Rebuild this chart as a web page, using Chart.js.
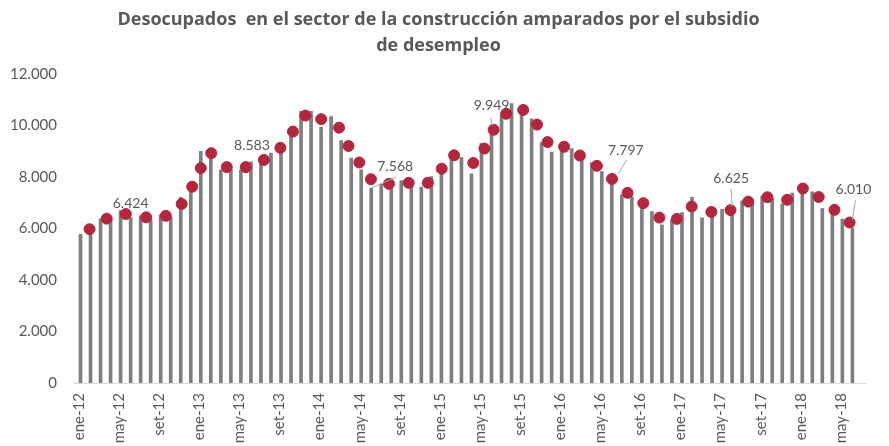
<!DOCTYPE html>
<html>
<head>
<meta charset="utf-8">
<script src="https://cdn.jsdelivr.net/npm/chart.js@4.4.1/dist/chart.umd.min.js"></script>
<style>
  html, body { margin: 0; padding: 0; background: #fff; }
  #wrap { width: 889px; height: 446px; }
</style>
</head>
<body>
<div id="wrap"><canvas id="chart" width="889" height="446"></canvas></div>
<script>
// Desocupados de la construcción con subsidio de desempleo — monthly bars + red markers

const MONTHS = ['ene', 'feb', 'mar', 'abr', 'may', 'jun', 'jul', 'ago', 'set', 'oct', 'nov', 'dic'];
const YEARS  = ['12', '13', '14', '15', '16', '17', '18'];
const MONTHS_IN_LAST_YEAR = 7; // axis runs to jul-18 (last slot empty)

// monthly values ene-12 .. jun-18, then the empty jul-18 slot
const VALUES = [
  5770, 5920, 6370, 6340, 6690, 6424, 6490, 6330, 6530, 6440, 7210, 7450,
  8990, 8740, 8270, 8280, 8270, 8583, 8540, 8920, 9080, 9590, 10540, 10540,
  9930, 10340, 9410, 8730, 8270, 7568, 7720, 7640, 7860, 7690, 7600, 8010,
  8420, 8890, 8760, 8120, 9300, 9949, 10390, 10850, 10650, 10250, 9330, 8960,
  9310, 9100, 8790, 8560, 8210, 7797, 7300, 7230, 6910, 6650, 6140, 6330,
  6610, 7210, 6410, 6650, 6740, 6625, 7070, 7030, 7260, 7170, 6950, 7370,
  7500, 7420, 6770, 6720, 6360, 6010, null
];

// red markers: position along the month axis (0 = ene-12) and value
const DOT_POS = [
  1.05, 2.76, 4.67, 6.70, 8.66, 10.24, 11.29, 12.15, 13.19, 14.74,
  16.64, 18.45, 20.09, 21.34, 22.59, 24.16, 25.94, 26.88, 27.96, 29.12,
  30.92, 32.89, 34.80, 36.18, 37.42, 39.33, 40.44, 41.36, 42.61, 44.31,
  45.69, 46.74, 48.39, 49.96, 51.66, 53.17, 54.72, 56.29, 57.90, 59.64,
  61.12, 63.08, 64.99, 66.76, 68.67, 70.64, 72.21, 73.79, 75.36, 76.87
];
const DOT_VALUES = [
  5970, 6380, 6560, 6430, 6490, 6950, 7620, 8340, 8920, 8380,
  8380, 8660, 9130, 9760, 10380, 10240, 9910, 9200, 8560, 7910,
  7730, 7770, 7770, 8320, 8840, 8540, 9100, 9830, 10450, 10600,
  10030, 9350, 9170, 8830, 8430, 7920, 7380, 6980, 6420, 6370,
  6850, 6640, 6710, 7040, 7210, 7110, 7550, 7220, 6720, 6230
];

// June of each year carries a value label
const LABELLED = [5, 17, 29, 41, 53, 65, 77];

const Y_MIN = 0, Y_MAX = 12000, Y_STEP = 2000;

// ── styles ──────────────────────────────────────────────────────────────
const GRAY = '#7f7f7f';
const RED = '#b3263d';
const TEXT = '#595959';
const FONT = 'Lato, "Open Sans", sans-serif';

// label placement relative to the bar top: text centre offset and leader line
const LABEL_STYLE = [
  { dx: 0,  dy: -14, line: null },
  { dx: 1,  dy: -16, line: null },
  { dx: 24, dy: -22, line: [0, 0, 25, -11] },
  { dx: 0,  dy: -21, line: [-1, -9, 1, -1] },
  { dx: 14, dy: -32, line: [6, -8, 15, -22] },
  { dx: -1, dy: -34, line: [0, -6, -1, -23] },
  { dx: 1,  dy: -39, line: [0, -8, 3, -28] },
];

function fmt(v) {
  return String(v).replace(/\B(?=(\d{3})+(?!\d))/g, '.');
}

const labels = [];
YEARS.forEach((y, yi) => {
  const n = yi === YEARS.length - 1 ? MONTHS_IN_LAST_YEAR : 12;
  for (let m = 0; m < n; m++) labels.push(MONTHS[m] + '-' + y);
});

const dots = DOT_POS.map((x, i) => ({ x, y: DOT_VALUES[i] }));

const labelPlugin = {
  id: 'valueLabels',
  afterDatasetsDraw(chart) {
    const meta = chart.getDatasetMeta(1);
    const c = chart.ctx;
    c.save();
    c.font = '14px ' + FONT;
    c.fillStyle = TEXT;
    c.textAlign = 'center';
    c.textBaseline = 'middle';
    LABELLED.forEach((idx, k) => {
      const el = meta.data[idx];
      if (!el) return;
      const s = LABEL_STYLE[k];
      const bx = el.x, by = el.y;
      if (s.line) {
        c.strokeStyle = '#a6a6a6';
        c.lineWidth = 1;
        c.beginPath();
        c.moveTo(bx + s.line[0], by + s.line[1]);
        c.lineTo(bx + s.line[2], by + s.line[3]);
        c.stroke();
      }
      c.fillText(fmt(VALUES[idx]), bx + s.dx, by + s.dy);
    });
    c.restore();
  }
};

new Chart(document.getElementById('chart'), {
  type: 'bar',
  data: {
    labels,
    datasets: [
      {
        type: 'scatter',
        data: dots,
        xAxisID: 'x2',
        yAxisID: 'y',
        backgroundColor: RED,
        borderColor: RED,
        pointRadius: 5.5,
        pointHoverRadius: 5.5,
        order: 0,
      },
      {
        type: 'bar',
        data: VALUES,
        xAxisID: 'x',
        yAxisID: 'y',
        backgroundColor: GRAY,
        barThickness: 3,
        order: 1,
      },
    ],
  },
  options: {
    responsive: false,
    animation: false,
    layout: { padding: { left: 0, right: 12, top: 0, bottom: 0 } },
    plugins: {
      legend: { display: false },
      tooltip: { enabled: false },
      title: {
        display: true,
        text: ['Desocupados  en el sector de la construcción amparados por el subsidio', 'de desempleo'],
        color: TEXT,
        font: { family: '"Open Sans", Lato, sans-serif', size: 18, weight: 'bold', lineHeight: 1.44 },
        padding: { top: 7, bottom: 15 },
      },
    },
    scales: {
      x: {
        type: 'category',
        offset: true,
        grid: { display: false, drawTicks: false },
        border: { color: '#d9d9d9', width: 1 },
        ticks: {
          autoSkip: false,
          maxRotation: 90,
          minRotation: 90,
          padding: 10,
          color: TEXT,
          font: { family: FONT, size: 15 },
          callback: (v, i) => (i % 4 === 0 ? labels[i] : ''),
        },
        afterFit: s => { s.height = 63; },
      },
      x2: {
        type: 'linear',
        display: false,
        offset: false,
        bounds: 'ticks',
        min: -0.5,
        max: labels.length - 0.5,
        grace: 0,
      },
      y: {
        min: Y_MIN,
        max: Y_MAX,
        grid: { display: false, drawTicks: false },
        border: { display: false },
        ticks: {
          stepSize: Y_STEP,
          padding: 17,
          color: TEXT,
          font: { family: FONT, size: 15 },
          callback: v => fmt(v),
        },
        afterFit: s => { s.width = 74; },
      },
    },
  },
  plugins: [labelPlugin],
});
</script>
</body>
</html>
